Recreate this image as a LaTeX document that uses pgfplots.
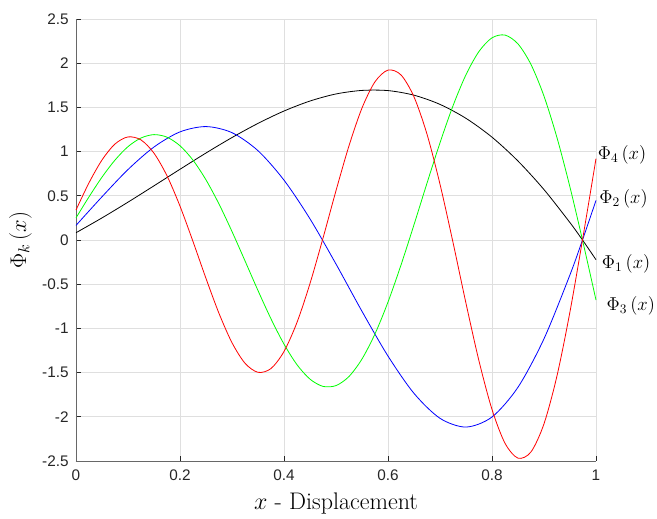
\RequirePackage{fix-cm}
\documentclass[border=0pt]{standalone}
\usepackage{fontspec}
\usepackage{pgfplots}
\pgfplotsset{compat=1.18}
\newfontfamily\ticksfont{Liberation Sans}
\definecolor{axgray}{RGB}{38,38,38}
\definecolor{gridgray}{RGB}{223,223,223}

\begin{document}
\begin{tikzpicture}
\begin{axis}[
  scale only axis, width=390pt, height=331.5pt,
  xmin=0, xmax=1, ymin=-2.5, ymax=2.5,
  xtick={0,0.2,...,1}, ytick={-2.5,-2,...,2.5},
  axis x line*=bottom, axis y line*=left,
  axis line style={-, axgray!70, line width=0.6pt},
  tick align=inside, major tick length=4pt,
  tick style={axgray, line width=0.6pt},
  grid=major, grid style={gridgray, line width=0.6pt},
  /pgf/number format/assume math mode=true,
  tick label style={font=\ticksfont\fontsize{11.5}{13}\selectfont, text=axgray},
  xticklabel style={yshift=-3pt},
  yticklabel style={xshift=-2pt},
  xlabel={\fontsize{18}{20}\selectfont $x$ - Displacement},
  ylabel={\fontsize{17}{19}\selectfont $\Phi_k\left(x\right)$},
  xlabel style={yshift=-2pt},
  ylabel style={yshift=1pt},
  clip=false,
  every axis plot/.append style={line width=0.6pt, smooth},
]
% Phi_1
\addplot[black] coordinates {
 (0,0.082)(0.05,0.250)(0.1,0.428)(0.15,0.613)(0.2,0.800)(0.25,0.984)
 (0.3,1.159)(0.35,1.319)(0.4,1.459)(0.45,1.572)(0.5,1.652)(0.55,1.692)
 (0.6,1.690)(0.65,1.638)(0.7,1.534)(0.75,1.376)(0.8,1.163)(0.85,0.893)
 (0.9,0.570)(0.95,0.196)(0.975,-0.008)(1,-0.223)};
% Phi_2
\addplot[blue] coordinates {
 (0,0.165)(0.05,0.489)(0.1,0.797)(0.15,1.052)(0.2,1.223)(0.25,1.283)
 (0.3,1.214)(0.35,1.010)(0.4,0.677)(0.45,0.239)(0.5,-0.272)(0.55,-0.807)
 (0.6,-1.313)(0.65,-1.735)(0.7,-2.017)(0.75,-2.116)(0.8,-2.002)(0.85,-1.665)
 (0.9,-1.117)(0.95,-0.393)(0.975,0.017)(1,0.448)};
% Phi_3
\addplot[green] coordinates {
 (0,0.250)(0.025,0.488)(0.05,0.711)(0.075,0.904)(0.1,1.056)(0.125,1.154)
 (0.15,1.192)(0.175,1.163)(0.2,1.066)(0.225,0.903)(0.25,0.680)(0.275,0.407)
 (0.3,0.096)(0.325,-0.236)(0.35,-0.572)(0.375,-0.892)(0.4,-1.178)(0.425,-1.411)
 (0.45,-1.574)(0.475,-1.656)(0.5,-1.647)(0.525,-1.544)(0.55,-1.346)(0.575,-1.062)
 (0.6,-0.702)(0.625,-0.283)(0.65,0.173)(0.675,0.643)(0.7,1.100)(0.725,1.518)
 (0.75,1.870)(0.775,2.133)(0.8,2.287)(0.825,2.318)(0.85,2.218)(0.875,1.985)
 (0.9,1.627)(0.925,1.157)(0.95,0.597)(0.975,-0.026)(1,-0.679)};
% Phi_4
\addplot[red] coordinates {
 (0,0.339)(0.025,0.647)(0.05,0.905)(0.075,1.086)(0.1,1.166)(0.125,1.132)
 (0.15,0.982)(0.175,0.726)(0.2,0.383)(0.225,-0.017)(0.25,-0.435)(0.275,-0.830)
 (0.3,-1.162)(0.325,-1.394)(0.35,-1.497)(0.375,-1.454)(0.4,-1.261)(0.425,-0.932)
 (0.45,-0.492)(0.475,0.021)(0.5,0.558)(0.525,1.066)(0.55,1.493)(0.575,1.790)
 (0.6,1.922)(0.625,1.867)(0.65,1.619)(0.675,1.197)(0.7,0.631)(0.725,-0.027)
 (0.75,-0.717)(0.775,-1.369)(0.8,-1.917)(0.825,-2.299)(0.85,-2.468)(0.875,-2.397)
 (0.9,-2.079)(0.925,-1.536)(0.95,-0.810)(0.975,0.035)(1,0.921)};

\begin{scope}[every node/.style={anchor=west, inner sep=0pt, font=\fontsize{14}{16}\selectfont}]
\node at (axis cs:1.003,0.96) {$\Phi_4\left(x\right)$};
\node at (axis cs:1.006,0.465) {$\Phi_2\left(x\right)$};
\node at (axis cs:1.011,-0.27) {$\Phi_1\left(x\right)$};
\node at (axis cs:1.020,-0.75) {$\Phi_3\left(x\right)$};
\end{scope}
\end{axis}
\path ([shift={(-57pt,-40.5pt)}]current axis.south west)
  rectangle ([shift={(435.75pt,345.75pt)}]current axis.south west);
\end{tikzpicture}
\end{document}
